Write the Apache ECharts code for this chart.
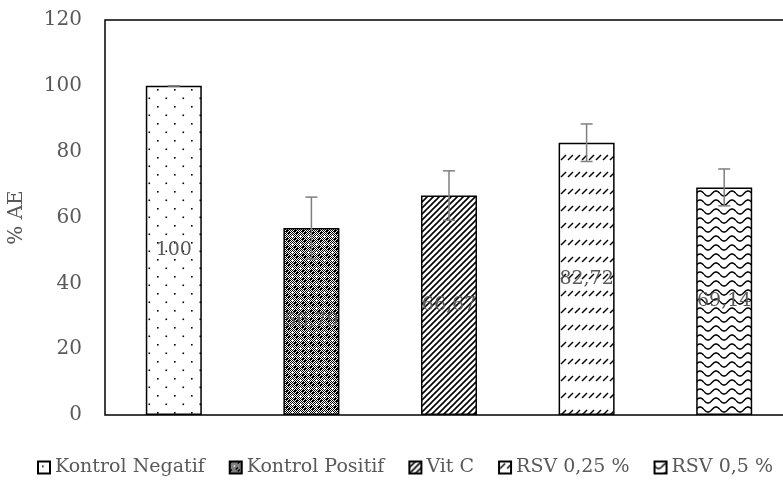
<!DOCTYPE html>
<html>
<head>
<meta charset="utf-8">
<script src="https://cdn.jsdelivr.net/npm/echarts@6/dist/echarts.min.js"></script>
<style>
  html, body { margin: 0; padding: 0; background: #fff; }
  #chart { width: 783px; height: 481px; }
</style>
</head>
<body>
<div id="chart"></div>
<script>
const categories = ["Kontrol Negatif", "Kontrol Positif", "Vit C", "RSV 0,25 %", "RSV 0,5 %"];
const values = [100, 56.79, 66.67, 82.72, 69.14];
const errors = [0, 9.4, 7.5, 5.7, 5.6];
const yTicks = [0, 20, 40, 60, 80, 100, 120];

const FONT = "DejaVu Serif";
const GREY = "#595959";

// small canvas tiles used as fill patterns
function tile(w, h, draw) {
  const c = document.createElement("canvas");
  c.width = w;
  c.height = h;
  const g = c.getContext("2d");
  g.fillStyle = "#fff";
  g.fillRect(0, 0, w, h);
  g.fillStyle = "#000";
  g.strokeStyle = "#000";
  draw(g, w, h);
  return { image: c, repeat: "repeat" };
}

const patterns = [
  // sparse dots
  tile(17, 17, g => {
    g.fillRect(4, 4, 1.6, 1.6);
    g.fillRect(12.5, 12.5, 1.6, 1.6);
  }),
  // dark checker with light spots
  tile(8, 8, g => {
    for (let x = 0; x < 8; x++)
      for (let y = 0; y < 8; y++)
        if ((x + y) % 2 === 0) g.fillRect(x, y, 1, 1);
    g.fillRect(0, 0, 2, 2);
    g.fillRect(6, 6, 2, 2);
    g.fillStyle = "#fff";
    g.fillRect(3, 4, 3, 1);
    g.fillRect(4, 3, 1, 3);
  }),
  // dense upward diagonal
  tile(6, 6, g => {
    g.lineWidth = 1.6;
    g.beginPath();
    g.moveTo(-1, 7); g.lineTo(7, -1);
    g.moveTo(-1, 1); g.lineTo(1, -1);
    g.moveTo(5, 7); g.lineTo(7, 5);
    g.stroke();
  }),
  // dashed upward diagonal, in rows
  tile(7, 17, g => {
    g.lineWidth = 1.5;
    g.beginPath();
    g.moveTo(1, 7); g.lineTo(6, 2);
    g.stroke();
  }),
  // waves
  tile(16, 9, g => {
    g.lineWidth = 1.5;
    g.beginPath();
    for (let x = 0; x <= 16; x += 0.5) {
      const y = 4.5 + 2.5 * Math.sin((x / 16) * Math.PI * 2);
      if (x === 0) g.moveTo(x, y); else g.lineTo(x, y);
    }
    g.stroke();
  })
];

const chart = echarts.init(document.getElementById("chart"), null, { renderer: "canvas" });

const barSeries = categories.map((name, i) => ({
  name,
  type: "bar",
  barWidth: 56,
  barGap: "-100%",
  itemStyle: { color: patterns[i], borderColor: "#000", borderWidth: 1.5 },
  label: {
    show: true,
    position: "inside",
    formatter: p => String(p.value).replace(".", ","),
    fontFamily: FONT,
    fontSize: 19,
    color: GREY
  },
  data: categories.map((c, j) => (j === i ? values[j] : "-"))
}));

const errorSeries = {
  type: "custom",
  z: 5,
  silent: true,
  renderItem: (params, api) => {
    const x = api.value(0);
    const v = api.value(1);
    const e = api.value(2);
    const top = api.coord([x, v + e]);
    const bot = api.coord([x, v - e]);
    const hw = 6;
    const style = { stroke: "#7f7f7f", lineWidth: 1.5 };
    return {
      type: "group",
      children: [
        { type: "line", shape: { x1: top[0], y1: top[1], x2: bot[0], y2: bot[1] }, style },
        { type: "line", shape: { x1: top[0] - hw, y1: top[1], x2: top[0] + hw, y2: top[1] }, style },
        { type: "line", shape: { x1: bot[0] - hw, y1: bot[1], x2: bot[0] + hw, y2: bot[1] }, style }
      ]
    };
  },
  data: categories.map((c, i) => [i, values[i], errors[i]])
};

const option = {
  animation: false,
  grid: {
    left: 105,
    top: 20,
    width: 688,
    height: 395,
    outerBoundsMode: "none",
    containLabel: false,
    show: true,
    borderColor: "#000",
    borderWidth: 1.5,
    backgroundColor: "transparent"
  },
  legend: {
    data: categories,
    left: 32,
    top: 453,
    icon: "rect",
    itemWidth: 12,
    itemHeight: 12,
    itemGap: 24,
    textStyle: { fontFamily: FONT, fontSize: 19, color: GREY }
  },
  xAxis: {
    type: "category",
    data: categories,
    axisLine: { show: false },
    axisTick: { show: false },
    axisLabel: { show: false },
    splitLine: { show: false }
  },
  yAxis: {
    type: "value",
    min: yTicks[0],
    max: yTicks[yTicks.length - 1],
    interval: yTicks[1] - yTicks[0],
    name: "% AE",
    nameLocation: "middle",
    nameRotate: 90,
    nameGap: 78,
    nameTextStyle: { fontFamily: FONT, fontSize: 20, color: GREY },
    axisLine: { show: false },
    axisTick: { show: false },
    splitLine: { show: false },
    axisLabel: { fontFamily: FONT, fontSize: 20, color: GREY, margin: 23 }
  },
  series: [...barSeries, errorSeries]
};

chart.setOption(option);
window.addEventListener("resize", () => chart.resize());
</script>
</body>
</html>
